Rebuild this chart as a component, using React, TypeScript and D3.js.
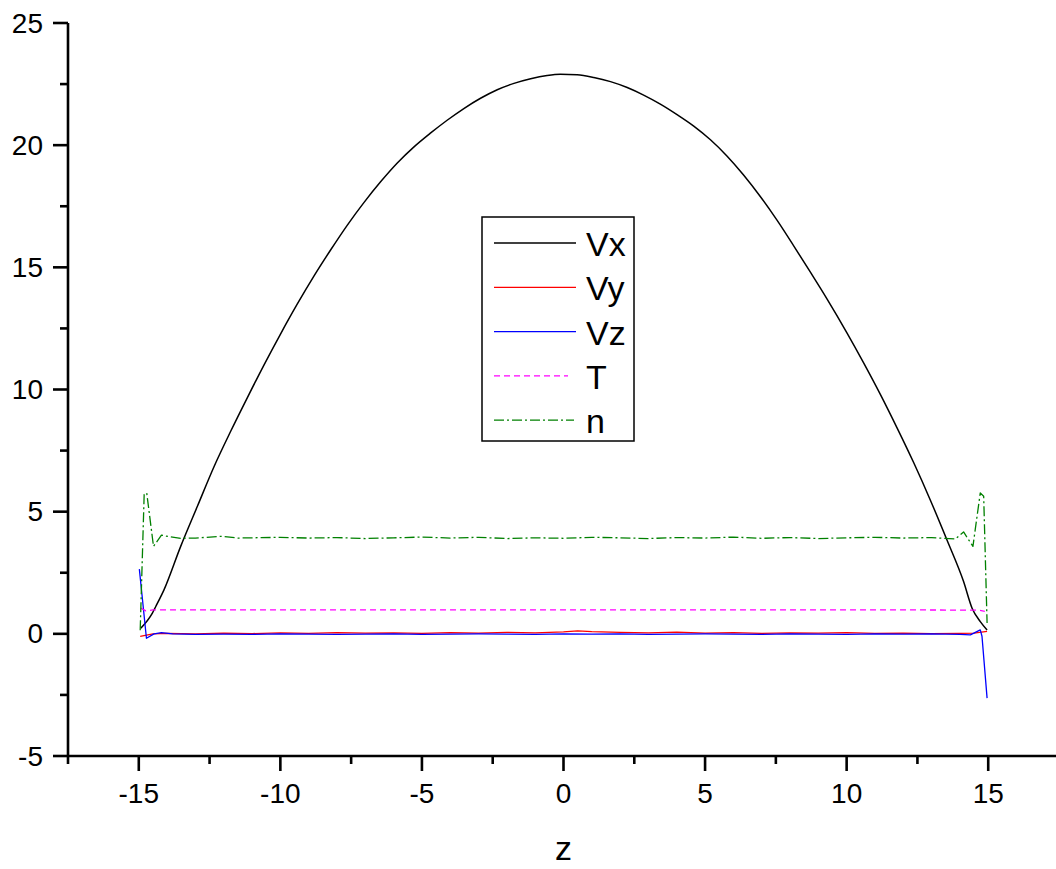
import React from "react";
import * as d3 from "d3";

// z positions and values
const vxZ = [-14.93, -14.52, -14.4, -14.11, -13.52, -12.93, -12.34, -11.75, -11.16, -10.58, -9.99, -9.4, -8.81, -8.22, -7.64, -7.05, -6.46, -5.87, -5.28, -4.69, -4.11, -3.52, -2.93, -2.34, -1.75, -1.16, -0.58, -0.11, 0.48, 1.07, 1.66, 2.25, 2.83, 3.42, 4.01, 4.6, 5.19, 5.78, 6.36, 6.95, 7.54, 8.13, 8.72, 9.31, 10.01, 10.6, 11.19, 11.78, 12.37, 12.95, 13.54, 14.13, 14.43, 14.72, 14.96];
const vxV = [0.23, 0.85, 1.12, 1.8, 3.58, 5.22, 6.85, 8.3, 9.68, 11.0, 12.28, 13.5, 14.65, 15.72, 16.72, 17.65, 18.5, 19.27, 19.93, 20.5, 21.02, 21.5, 21.92, 22.27, 22.53, 22.72, 22.85, 22.9, 22.88, 22.77, 22.6, 22.36, 22.05, 21.68, 21.25, 20.78, 20.22, 19.55, 18.78, 17.9, 16.93, 15.88, 14.8, 13.7, 12.32, 11.09, 9.8, 8.43, 7.0, 5.49, 3.85, 2.14, 1.05, 0.5, 0.16];

const vyZ = [-14.95, -14.5, -14, -13, -12, -11, -10, -9, -8, -7, -6, -5, -4, -3, -2, -1, 0, 0.5, 1, 2, 3, 4, 5, 6, 7, 8, 9, 10, 11, 12, 13, 14, 14.5, 14.96];
const vyV = [-0.1, 0.0, 0.02, 0.0, 0.03, 0.01, 0.04, 0.02, 0.05, 0.03, 0.04, 0.02, 0.05, 0.03, 0.06, 0.04, 0.08, 0.12, 0.09, 0.06, 0.04, 0.07, 0.03, 0.05, 0.02, 0.04, 0.03, 0.05, 0.02, 0.03, 0.01, 0.02, 0.03, 0.1];

const vzZ = [-14.98, -14.73, -14.46, -14.2, -13.8, -13, -12, -11, -10, -9, -8, -7, -6, -5, -4, -3, -2, -1, 0, 1, 2, 3, 4, 5, 6, 7, 8, 9, 10, 11, 12, 13, 14, 14.37, 14.72, 14.78, 14.96];
const vzV = [2.65, -0.18, 0.0, 0.05, 0.0, -0.02, -0.01, -0.02, 0.0, -0.01, -0.02, -0.01, 0.0, -0.02, -0.01, 0.0, -0.01, -0.02, 0.0, -0.01, 0.0, -0.02, -0.01, 0.0, -0.01, -0.02, 0.0, -0.01, -0.02, 0.0, -0.01, 0.0, -0.02, -0.04, 0.16, -0.1, -2.63];

const tZ = [-14.93, -14.75, -14.5, -12, -9, -6, -3, 0, 3, 6, 9, 12, 14.5, 14.7, 14.88];
const tV = [1.05, 0.94, 0.98, 0.98, 0.98, 0.98, 0.98, 0.98, 0.98, 0.98, 0.98, 0.98, 0.97, 0.96, 0.92];

const nZ = [-14.95, -14.81, -14.72, -14.48, -14.2, -13.9, -13.52, -13, -12.1, -11.5, -11, -10, -9, -8, -7, -6, -5, -4, -3, -2, -1, 0, 1, 2, 3, 4, 5, 6, 7, 8, 9, 10, 11, 12, 13, 13.84, 14.13, 14.46, 14.72, 14.84, 14.96];
const nV = [0.15, 5.7, 5.77, 3.58, 4.04, 3.97, 3.91, 3.92, 3.99, 3.92, 3.93, 3.95, 3.92, 3.94, 3.9, 3.93, 3.96, 3.92, 3.95, 3.9, 3.93, 3.91, 3.95, 3.93, 3.9, 3.94, 3.92, 3.96, 3.91, 3.94, 3.9, 3.93, 3.95, 3.92, 3.94, 3.88, 4.17, 3.58, 5.77, 5.63, 0.44];

const xMajorTicks = [-15, -10, -5, 0, 5, 10, 15];
const xMinorTicks = [-17.5, -12.5, -7.5, -2.5, 2.5, 7.5, 12.5];
const yMajorTicks = [-5, 0, 5, 10, 15, 20, 25];
const yMinorTicks = [-2.5, 2.5, 7.5, 12.5, 17.5, 22.5];

const seriesNames = ["Vx", "Vy", "Vz", "T", "n"];
const seriesColors = ["#000000", "#ff0000", "#0000ff", "#ff00ff", "#008000"];
const seriesDash = ["", "", "", "6,4", "10,3,2,3"];

const W = 1056;
const H = 869;

export default function App() {
  const x = d3.scaleLinear().domain([-17.5, 17.5]).range([68, 1059]);
  const y = d3.scaleLinear().domain([-5, 25]).range([756, 23]);
  const smooth = d3
    .line<[number, number]>()
    .x((d) => x(d[0]))
    .y((d) => y(d[1]))
    .curve(d3.curveMonotoneX);
  const straight = d3
    .line<[number, number]>()
    .x((d) => x(d[0]))
    .y((d) => y(d[1]));

  const zs = [vxZ, vyZ, vzZ, tZ, nZ];
  const vs = [vxV, vyV, vzV, tV, nV];
  const paths = zs.map((zz, i) => {
    const pts = zz.map((z, j) => [z, vs[i][j]] as [number, number]);
    return (i === 0 ? smooth(pts) : straight(pts)) || "";
  });

  const font = "'Liberation Sans', Arial, sans-serif";
  const axisY0 = y(-5);
  const axisX0 = x(-17.5);

  const legX = 482;
  const legY = 217;
  const rowY = (i: number) => 243 + i * 44.3;

  return (
    <svg
      width={W}
      height={H}
      style={{ position: "absolute", left: 0, top: 0, background: "#fff" }}
      fontFamily={font}
    >
      <rect x={0} y={0} width={W} height={H} fill="#fff" />
      {paths.map((p, i) => (
        <path
          key={i}
          d={p}
          fill="none"
          stroke={seriesColors[i]}
          strokeWidth={i === 0 ? 1.5 : 1.3}
          strokeLinejoin="round"
          strokeDasharray={seriesDash[i] || undefined}
        />
      ))}

      {/* Y axis */}
      <line x1={axisX0} x2={axisX0} y1={y(25)} y2={axisY0 + 1} stroke="#000" strokeWidth={2.6} />
      {yMajorTicks.map((t) => (
        <g key={"ym" + t}>
          <line x1={axisX0 - 15} x2={axisX0} y1={y(t)} y2={y(t)} stroke="#000" strokeWidth={2.6} />
          <text x={43} y={y(t) + 9.5} textAnchor="end" fontSize={28} fill="#000">
            {t}
          </text>
        </g>
      ))}
      {yMinorTicks.map((t) => (
        <line key={"yn" + t} x1={axisX0 - 8} x2={axisX0} y1={y(t)} y2={y(t)} stroke="#000" strokeWidth={2.6} />
      ))}

      {/* X axis */}
      <line x1={axisX0 - 1} x2={W} y1={axisY0} y2={axisY0} stroke="#000" strokeWidth={2.6} />
      {xMajorTicks.map((t) => (
        <g key={"xm" + t}>
          <line x1={x(t)} x2={x(t)} y1={axisY0} y2={axisY0 + 15} stroke="#000" strokeWidth={2.6} />
          <text x={x(t)} y={803} textAnchor="middle" fontSize={28} fill="#000">
            {t}
          </text>
        </g>
      ))}
      {xMinorTicks.map((t) => (
        <line key={"xn" + t} x1={x(t)} x2={x(t)} y1={axisY0} y2={axisY0 + 8} stroke="#000" strokeWidth={2.6} />
      ))}
      <text x={x(0)} y={860} textAnchor="middle" fontSize={34} fill="#000">
        z
      </text>

      {/* Legend */}
      <rect x={legX} y={legY} width={152} height={224} fill="#fff" stroke="#000" strokeWidth={1.5} />
      {seriesNames.map((nm, i) => (
        <g key={nm}>
          <line
            x1={494}
            x2={i === 3 ? 568 : i === 4 ? 574 : 576}
            y1={rowY(i)}
            y2={rowY(i)}
            stroke={seriesColors[i]}
            strokeWidth={1.3}
            strokeDasharray={seriesDash[i] || undefined}
          />
          <text x={586} y={rowY(i) + 13} fontSize={34} fill="#000">
            {nm}
          </text>
        </g>
      ))}
    </svg>
  );
}
